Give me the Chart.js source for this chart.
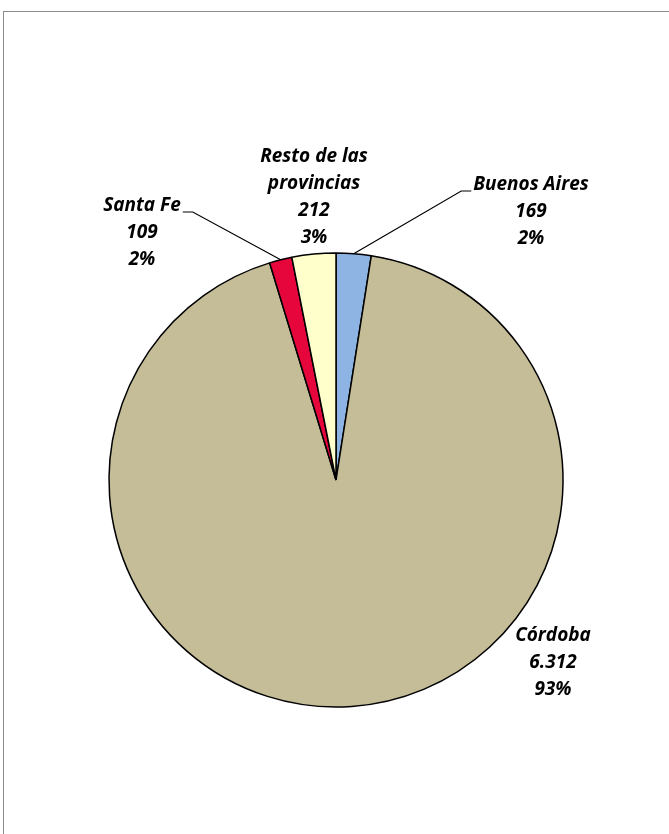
<!DOCTYPE html>
<html>
<head>
<meta charset="utf-8">
<script src="https://cdn.jsdelivr.net/npm/chart.js@4/dist/chart.umd.min.js"></script>
<style>
    html, body { margin: 0; padding: 0; background: #fff; }
    #frame {
        position: absolute; left: 3px; top: 11px; right: -5px; bottom: -5px;
        border-top: 1.5px solid #8c8c8c; border-left: 1.5px solid #8c8c8c;
    }
    #wrap { position: absolute; left: 0; top: 0; width: 669px; height: 834px; }
</style>
</head>
<body>
<div id="frame"></div>
<div id="wrap"><canvas id="pie"></canvas></div>
<script>
// Datos del gráfico
const categories = ['Buenos Aires', 'Córdoba', 'Santa Fe', ['Resto de las', 'provincias']];
const values = [169, 6312, 109, 212];
const sliceColors = ['#8db4e2', '#c4bd97', '#e6063c', '#ffffcc'];

// Posición de cada etiqueta respecto del centro de la torta (px), y lado del conector
const labelPlacement = [
    { dx: 195, dy: -295, leader: 'left' },
    { dx: 217, dy: 156, leader: null },
    { dx: -194, dy: -274, leader: 'right' },
    { dx: -22, dy: -323, leader: null }
];

const LABEL_FONT = 'italic bold 19px "Open Sans", Lato, sans-serif';
const LINE_H = 27;

// Separador de miles con punto (6.312)
function formatNumber(n) {
    return String(n).replace(/\B(?=(\d{3})+(?!\d))/g, '.');
}

const total = values.reduce((a, b) => a + b, 0);

// Plugin para dibujar etiquetas y líneas guía
const pieLabels = {
    id: 'pieLabels',
    afterDatasetsDraw(chart) {
        const ctx = chart.ctx;
        const arcs = chart.getDatasetMeta(0).data;
        ctx.save();
        ctx.font = LABEL_FONT;
        ctx.fillStyle = '#000';
        ctx.textAlign = 'center';
        ctx.textBaseline = 'middle';
        arcs.forEach((arc, i) => {
            const place = labelPlacement[i];
            const name = categories[i];
            const lines = (Array.isArray(name) ? name : [name]).concat([
                formatNumber(values[i]),
                Math.round(values[i] / total * 100) + '%'
            ]);
            const lx = arc.x + place.dx;
            const ly = arc.y + place.dy;
            lines.forEach((t, k) => ctx.fillText(t, lx, ly + k * LINE_H));

            if (place.leader) {
                const mid = (arc.startAngle + arc.endAngle) / 2;
                const ex = arc.x + Math.cos(mid) * arc.outerRadius;
                const ey = arc.y + Math.sin(mid) * arc.outerRadius;
                const w = ctx.measureText(lines[0]).width;
                const dir = place.leader === 'left' ? -1 : 1;
                const tx = lx + dir * (w / 2 + 2);
                const ty = ly + 6;
                ctx.beginPath();
                ctx.strokeStyle = '#000';
                ctx.lineWidth = 1.2;
                ctx.moveTo(tx, ty);
                ctx.lineTo(tx + dir * 10, ty);
                ctx.lineTo(ex, ey);
                ctx.stroke();
            }
        });
        ctx.restore();
    }
};

new Chart(document.getElementById('pie'), {
    type: 'pie',
    data: {
        labels: categories,
        datasets: [{
            data: values,
            backgroundColor: sliceColors,
            borderColor: '#000',
            borderWidth: 1.5,
            hoverOffset: 0
        }]
    },
    options: {
        responsive: true,
        maintainAspectRatio: false,
        animation: false,
        events: [],
        radius: 227,
        layout: { padding: { left: 3, right: 0, top: 126, bottom: 0 } },
        plugins: {
            legend: { display: false },
            tooltip: { enabled: false }
        }
    },
    plugins: [pieLabels]
});
</script>
</body>
</html>
